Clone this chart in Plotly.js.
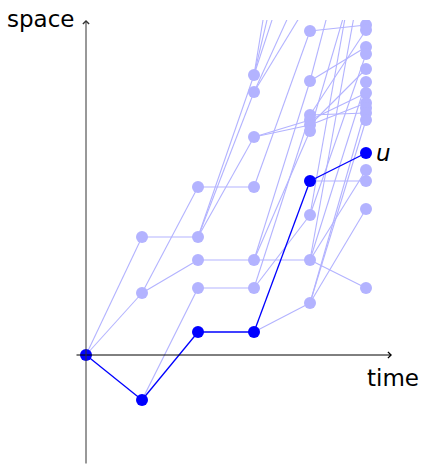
<!DOCTYPE html>
<html>
<head>
<meta charset="utf-8">
<script src="https://cdn.plot.ly/plotly-3.0.1.min.js"></script>
<style>html,body{margin:0;padding:0;background:#fff;}#chart{width:422px;height:465px;}</style>
</head>
<body>
<div id="chart"></div>
<script>
// Time steps of the branching walk
const timeSteps = [0, 1, 2, 3, 4, 5];
// Space positions of the nodes at each time step, and index of each node's parent in the previous step
const space0 = [0];
const space1 = [118, 62, -45];
const parent1 = [0, 0, 0];
const space2 = [168, 118, 95, 67, 23];
const parent2 = [1, 0, 1, 2, 2];
const space3 = [280, 263, 218, 168, 95, 67, 23];
const parent3 = [1, 1, 1, 0, 2, 3, 4];
const space4 = [622, 517, 451, 355, 386, 324, 274, 240, 235, 230, 224, 174, 140, 95, 52];
const parent4 = [0, 0, 0, 1, 1, 3, 4, 5, 2, 2, 4, 6, 5, 4, 6];
const space5 = [330, 325, 308, 301, 286, 273, 262, 252, 247, 242, 235, 202, 185, 174, 146, 67, 487, 455, 405, 415];
const parent5 = [5, 7, 6, 12, 9, 13, 8, 9, 14, 7, 14, 11, 13, 11, 14, 13, 6, 12, 13, 10];
// Highlighted path (index of node at each step) and its label
const pathIdx = [0, 2, 4, 6, 11, 11];
const pathLabel = 'u';
const axisLabels = {x: 'time', y: 'space'};

const spaces = [space0, space1, space2, space3, space4, space5];
const parents = [null, parent1, parent2, parent3, parent4, parent5];

const LIGHT = '#b3b3ff', BLUE = '#0000ff';
const lx = [], ly = [], bx = [], by = [];
const nx = [], ny = [];
for (let s = 1; s < spaces.length; s++) {
  spaces[s].forEach((v, i) => {
    const p = parents[s][i];
    const onPath = pathIdx[s] === i && pathIdx[s - 1] === p;
    const X = onPath ? bx : lx, Y = onPath ? by : ly;
    X.push(timeSteps[s - 1], timeSteps[s], null);
    Y.push(spaces[s - 1][p], v, null);
  });
}
spaces.forEach((arr, s) => arr.forEach((v, i) => {
  if (pathIdx[s] !== i) { nx.push(timeSteps[s]); ny.push(v); }
}));
const px = timeSteps.map(t => t);
const py = pathIdx.map((i, s) => spaces[s][i]);

const traces = [
  {x: lx, y: ly, mode: 'lines', line: {color: LIGHT, width: 1.1}, hoverinfo: 'skip', cliponaxis: true},
  {x: nx, y: ny, mode: 'markers', marker: {color: LIGHT, size: 12}, hoverinfo: 'skip', cliponaxis: true},
  {x: bx, y: by, mode: 'lines', line: {color: BLUE, width: 1.3}, hoverinfo: 'skip'},
  {x: px, y: py, mode: 'markers', marker: {color: BLUE, size: 12}, hoverinfo: 'skip'}
];

const W = 422, H = 465, mt = 20;
const x0px = 86, stepPx = 56, y0px = 355;
const xr = [-x0px / stepPx, (W - x0px) / stepPx];
const yr = [-(H - y0px), y0px - mt];
const xAt = p => (p - x0px) / stepPx;
const font = 'DejaVu Sans, sans-serif';

const layout = {
  width: W, height: H,
  margin: {l: 0, r: 0, t: mt, b: 0},
  paper_bgcolor: '#fff', plot_bgcolor: '#fff',
  showlegend: false,
  xaxis: {range: xr, visible: false, fixedrange: true},
  yaxis: {range: yr, visible: false, fixedrange: true},
  annotations: [
    {x: xAt(392), y: 0, ax: xAt(75), ay: 0, xref: 'x', yref: 'y', axref: 'x', ayref: 'y',
     text: '', showarrow: true, arrowhead: 4, arrowsize: 1.2, arrowwidth: 1, arrowcolor: '#000', standoff: 0, startstandoff: 0},
    {x: 0, y: yr[1], ax: 0, ay: yr[0], xref: 'x', yref: 'y', axref: 'x', ayref: 'y',
     text: '', showarrow: true, arrowhead: 4, arrowsize: 1.2, arrowwidth: 1, arrowcolor: '#333', standoff: 0, startstandoff: 0},
    {x: 76 / W, y: (H - 19) / (H - mt), xref: 'paper', yref: 'paper', xanchor: 'right', yanchor: 'middle',
     text: axisLabels.y, showarrow: false, font: {family: font, size: 23, color: '#000'}},
    {x: 393 / W, y: (H - 378) / (H - mt), xref: 'paper', yref: 'paper', xanchor: 'center', yanchor: 'middle',
     text: axisLabels.x, showarrow: false, font: {family: font, size: 23, color: '#000'}},
    {x: timeSteps[5], y: py[5], xref: 'x', yref: 'y', xanchor: 'left', yanchor: 'middle', xshift: 8,
     text: '<i>' + pathLabel + '</i>', showarrow: false, font: {family: font, size: 23, color: '#000'}}
  ]
};

Plotly.newPlot('chart', traces, layout, {displayModeBar: false, staticPlot: true});
</script>
</body>
</html>
